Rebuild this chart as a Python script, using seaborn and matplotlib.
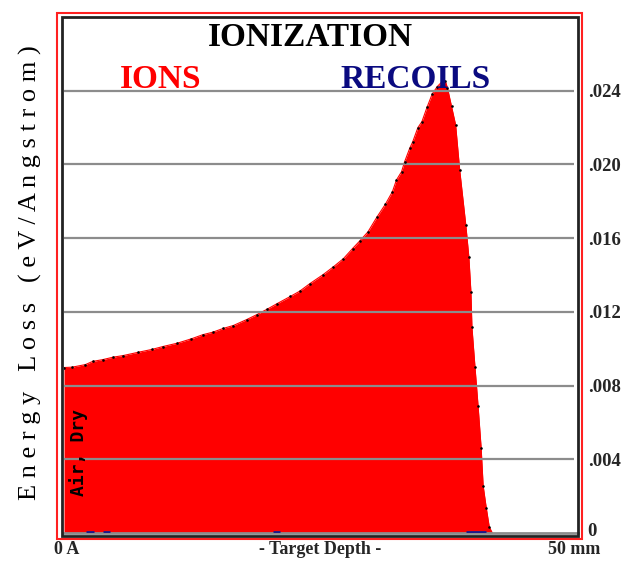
import matplotlib
matplotlib.use("Agg")
import matplotlib.pyplot as plt
import matplotlib.transforms as mtransforms
import seaborn as sns
from matplotlib.patches import Rectangle

# ionization curve (depth in mm, eV/Angstrom)
depth_mm = [0.0, 0.8, 2.1, 2.8, 3.8, 4.8, 5.8, 7.3, 8.6, 9.7,
            11.1, 12.5, 13.6, 14.6, 15.6, 16.6, 17.9, 18.9, 19.9, 20.9,
            22.2, 23.1, 24.1, 25.4, 26.4, 27.4, 28.3, 29.0, 29.8, 30.7,
            31.5, 32.2, 32.6, 33.1, 33.4, 33.9, 34.2, 34.7, 35.1, 35.6,
            36.1, 36.6, 37.1, 37.4, 37.6, 38.0, 38.4, 38.8, 39.4, 39.7,
            39.9, 40.0, 40.3, 40.6, 40.9, 41.1, 41.4, 41.7, 42.0]
ions = [0.00898, 0.00900, 0.00914, 0.00931, 0.00941, 0.00954, 0.00963, 0.00981, 0.00996, 0.01012,
        0.01030, 0.01054, 0.01076, 0.01090, 0.01110, 0.01126, 0.01158, 0.01185, 0.01214, 0.01245,
        0.01284, 0.01312, 0.01353, 0.01402, 0.01444, 0.01489, 0.01544, 0.01585, 0.01634, 0.01716,
        0.01783, 0.01852, 0.01916, 0.01961, 0.02015, 0.02088, 0.02124, 0.02200, 0.02233, 0.02311,
        0.02382, 0.02423, 0.02451, 0.02451, 0.02415, 0.02315, 0.02215, 0.01970, 0.01671, 0.01497,
        0.01308, 0.01117, 0.00900, 0.00691, 0.00464, 0.00256, 0.00138, 0.00033, 0.0]

# recoils barely leave zero: short segments along the axis
recoil_start = [2.2, 3.8, 20.5, 39.4]
recoil_end = [2.9, 4.5, 21.2, 41.4]
recoil_level = 0.00004

y_ticks = [0, 0.004, 0.008, 0.012, 0.016, 0.020, 0.024]
y_labels = ["0", ".004", ".008", ".012", ".016", ".020", ".024"]
x_ticks = [0, 10, 20, 30, 40, 50]

sns.set_theme(style="white")
plt.rcParams["font.family"] = ["Liberation Serif", "DejaVu Serif"]

W, H = 629, 561
fig = plt.figure(figsize=(W / 100, H / 100), dpi=100)


def fx(px):
    return px / W


def fy(py):
    return 1 - py / H


ax = fig.add_axes([fx(64), fy(533), fx(578) - fx(64), fy(18) - fy(533)])
ax.set_facecolor("white")
ax.set_xlim(0, 50.4)
ax.set_ylim(0, 0.02795)

ax.fill_between(depth_mm, ions, color="#ff0000", lw=0, zorder=2)
sns.lineplot(x=depth_mm, y=ions, color="#ff0000", lw=0.8, ax=ax, zorder=2)
sns.scatterplot(x=depth_mm[:-1], y=ions[:-1], color="black", s=3.5, linewidth=0, ax=ax, zorder=4)

ax.hlines(y_ticks[1:], 0, 50, color="#8c8c8c", lw=1.6, zorder=3)
ax.hlines([recoil_level] * len(recoil_start), recoil_start, recoil_end,
          color="#1a1a8c", lw=2, zorder=5)

for s in ["top", "left", "right"]:
    ax.spines[s].set_visible(False)
ax.spines["bottom"].set_color("#8c8c8c")
ax.spines["bottom"].set_linewidth(2)

ax.set_xticks(x_ticks)
ax.set_xticklabels([])
ax.tick_params(axis="x", direction="in", length=6, width=1.2, color="#8c8c8c")
ax.yaxis.tick_right()
ax.set_yticks(y_ticks)
ax.set_yticklabels(y_labels, fontsize=13.5, fontweight="bold")
ax.tick_params(axis="y", length=0, pad=7)
ax.set_xlabel("")
ax.set_ylabel("")
# the zero label sits a little above the axis line
zero_lab = ax.get_yticklabels()[0]
zero_lab.set_transform(zero_lab.get_transform()
                       + mtransforms.ScaledTranslation(0, 4 / 100, fig.dpi_scale_trans))

# frames
fig.patches.append(Rectangle((fx(57), fy(539)), fx(582) - fx(57), fy(13) - fy(539),
                             transform=fig.transFigure, fill=False, ec="#ff2020", lw=1.5))
fig.patches.append(Rectangle((fx(62), fy(536)), fx(578) - fx(62), fy(17) - fy(536),
                             transform=fig.transFigure, fill=False, ec="#222222", lw=2))

fig.text(fx(310), fy(37), "IONIZATION", ha="center", va="center",
         fontsize=24, fontweight="bold", color="black")
fig.text(fx(161), fy(80), "IONS", ha="center", va="center",
         fontsize=24, fontweight="bold", color="#ff0000")
fig.text(fx(416), fy(80), "RECOILS", ha="center", va="center",
         fontsize=24, fontweight="bold", color="#0a0a80")

fig.text(fx(30), fy(273), "E n e r g y   L o s s   ( e V / A n g s t r o m )", rotation=90,
         ha="center", va="center", fontsize=19, color="black")
fig.text(fx(79), fy(453), "Air, Dry", rotation=90, ha="center", va="center",
         fontsize=13, fontweight="bold", family="DejaVu Sans Mono", color="black")

fig.text(fx(54), fy(550), "0 A", ha="left", va="center", fontsize=13, fontweight="bold")
fig.text(fx(320), fy(550), "- Target Depth -", ha="center", va="center",
         fontsize=13, fontweight="bold")
fig.text(fx(600), fy(550), "50 mm", ha="right", va="center", fontsize=13, fontweight="bold")

fig.savefig("out.png", dpi=100)
